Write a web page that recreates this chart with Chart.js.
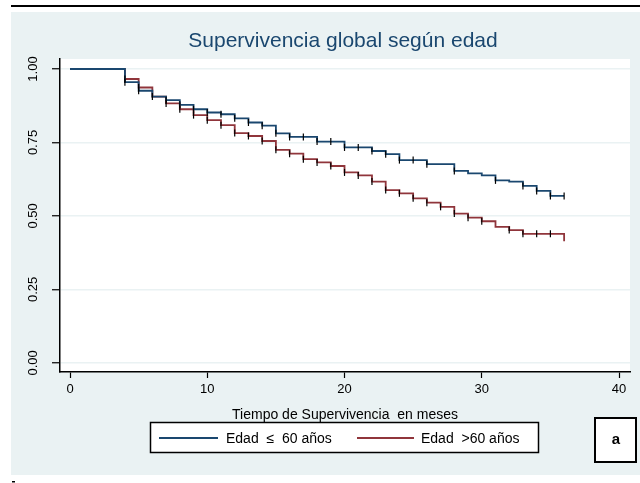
<!DOCTYPE html>
<html lang="es">
<head>
<meta charset="UTF-8">
<title>Supervivencia global según edad</title>
<script src="https://cdn.jsdelivr.net/npm/chart.js"></script>
<style>
  html, body { margin: 0; padding: 0; background: #fff; }
</style>
</head>
<body>
<canvas id="kmChart" width="640" height="483"></canvas>
<script>
// tiempos (meses) y supervivencia
const blueTimes = [0, 4, 5, 6, 7, 8, 9, 10, 11, 12, 13, 14, 15, 16, 18, 20, 22, 23, 24, 26, 28, 29, 30, 31, 32, 33, 34, 35, 36];
const blueSurv  = [1, 0.955, 0.926, 0.906, 0.894, 0.878, 0.863, 0.852, 0.846, 0.832, 0.818, 0.807, 0.781, 0.769, 0.753, 0.733, 0.721, 0.710, 0.690, 0.676, 0.653, 0.645, 0.638, 0.621, 0.617, 0.602, 0.585, 0.568, 0.568];
const redTimes  = [0, 4, 5, 6, 7, 8, 9, 10, 11, 12, 13, 14, 15, 16, 17, 18, 19, 20, 21, 22, 23, 24, 25, 26, 27, 28, 29, 30, 31, 32, 33, 36];
const redSurv   = [1, 0.966, 0.937, 0.906, 0.883, 0.863, 0.843, 0.826, 0.809, 0.782, 0.772, 0.755, 0.725, 0.712, 0.693, 0.682, 0.670, 0.648, 0.638, 0.617, 0.588, 0.577, 0.560, 0.545, 0.531, 0.508, 0.494, 0.482, 0.463, 0.452, 0.439, 0.414];

// marcas de censura
const blueCensor = [4, 5, 7, 8, 9, 10, 11, 12, 13, 14, 15, 16, 17, 18, 19, 20, 21, 22, 23, 24, 25, 26, 28, 31, 33, 34, 35, 36];
const redCensor  = [4, 5, 6, 7, 8, 9, 10, 11, 12, 13, 14, 15, 16, 17, 18, 19, 20, 21, 22, 23, 24, 25, 26, 27, 28, 29, 30, 32, 33, 34, 35];

const xTicks = [0, 10, 20, 30, 40];
const yTicks = [0, 0.25, 0.5, 0.75, 1];
const labels = ['Edad  \u2264  60 años', 'Edad  >60 años'];
const title = 'Supervivencia global según edad';
const xTitle = 'Tiempo de Supervivencia  en meses';

const BLUE = '#1a476f';
const RED = '#90353b';
const BG = '#eaf2f3';
const FONT = '"Liberation Sans", Arial, sans-serif';

function survAt(times, surv, t) {
    let s = surv[0];
    for (let i = 0; i < times.length; i++) {
        if (times[i] <= t) s = surv[i];
    }
    return s;
}

const toXY = (xs, ys) => xs.map((x, i) => ({ x: x, y: ys[i] }));
const censorXY = (cs, times, surv) => cs.map(t => ({ x: t, y: survAt(times, surv, t) }));

const decor = {
    id: 'decor',
    beforeDraw(chart) {
        const ctx = chart.ctx, a = chart.chartArea;
        ctx.save();
        ctx.fillStyle = '#fff';
        ctx.fillRect(0, 0, chart.width, chart.height);
        ctx.fillStyle = '#000';
        ctx.fillRect(11, 5, 629, 2);
        ctx.fillStyle = BG;
        ctx.fillRect(11, 12, 629, 463);
        ctx.fillStyle = '#fff';
        ctx.fillRect(a.left, a.top, a.right - a.left, a.bottom - a.top);
        ctx.fillStyle = '#000';
        ctx.fillRect(12, 481, 3, 1.5);
        ctx.restore();
    },
    afterDraw(chart) {
        const ctx = chart.ctx;
        const y = chart.scales.y;
        ctx.save();

        // titulo
        ctx.fillStyle = BLUE;
        ctx.font = '21px ' + FONT;
        ctx.textAlign = 'center';
        ctx.textBaseline = 'alphabetic';
        ctx.fillText(title, 343, 47);

        // etiquetas eje y, giradas
        ctx.fillStyle = '#000';
        ctx.font = '13px ' + FONT;
        ctx.textBaseline = 'middle';
        y.ticks.forEach(t => {
            ctx.save();
            ctx.translate(33, y.getPixelForValue(t.value));
            ctx.rotate(-Math.PI / 2);
            ctx.fillText(t.value.toFixed(2), 0, 0);
            ctx.restore();
        });

        // leyenda
        ctx.fillStyle = '#fff';
        ctx.fillRect(150, 422, 389, 31);
        ctx.strokeStyle = '#000';
        ctx.lineWidth = 1.5;
        ctx.strokeRect(150.5, 422.5, 388, 30);
        ctx.lineWidth = 2;
        ctx.strokeStyle = BLUE;
        ctx.beginPath(); ctx.moveTo(159, 438); ctx.lineTo(218, 438); ctx.stroke();
        ctx.strokeStyle = RED;
        ctx.beginPath(); ctx.moveTo(357, 438); ctx.lineTo(414, 438); ctx.stroke();
        ctx.fillStyle = '#000';
        ctx.font = '14px ' + FONT;
        ctx.textAlign = 'left';
        ctx.fillText(labels[0], 226, 439);
        ctx.fillText(labels[1], 421, 439);

        // caja "a"
        ctx.fillStyle = '#fff';
        ctx.fillRect(594, 417, 43, 46);
        ctx.lineWidth = 2;
        ctx.strokeStyle = '#000';
        ctx.strokeRect(595, 418, 41, 44);
        ctx.fillStyle = '#000';
        ctx.font = 'bold 15px ' + FONT;
        ctx.textAlign = 'center';
        ctx.fillText('a', 616, 440);
        ctx.restore();
    }
};

new Chart(document.getElementById('kmChart'), {
    type: 'line',
    data: {
        datasets: [
            {
                data: censorXY(blueCensor, blueTimes, blueSurv),
                showLine: false, order: 0,
                pointStyle: 'line', rotation: 90, pointRadius: 3.5,
                pointBorderColor: '#000', pointBorderWidth: 1.2
            },
            {
                data: censorXY(redCensor, redTimes, redSurv),
                showLine: false, order: 0,
                pointStyle: 'line', rotation: 90, pointRadius: 3.5,
                pointBorderColor: '#000', pointBorderWidth: 1.2
            },
            {
                label: labels[0],
                data: toXY(blueTimes, blueSurv),
                stepped: true, order: 1,
                borderColor: BLUE, borderWidth: 1.8,
                pointRadius: 0, fill: false
            },
            {
                label: labels[1],
                data: toXY(redTimes, redSurv),
                stepped: true, order: 2,
                borderColor: RED, borderWidth: 1.8,
                pointRadius: 0, fill: false
            }
        ]
    },
    options: {
        responsive: false,
        animation: false,
        layout: { padding: { top: 59, right: 10, bottom: 0, left: 0 } },
        plugins: {
            legend: { display: false },
            tooltip: { enabled: false },
            title: { display: false }
        },
        scales: {
            x: {
                type: 'linear',
                min: -0.73,
                max: 40.8,
                afterFit(s) { s.height = 111; },
                afterBuildTicks(s) { s.ticks = xTicks.map(v => ({ value: v })); },
                grid: { drawOnChartArea: false, tickLength: 6, tickColor: '#000', tickWidth: 1.2 },
                border: { color: '#000', width: 1.5 },
                ticks: { color: '#000', padding: 4, maxRotation: 0, font: { family: FONT, size: 13 } },
                title: {
                    display: true, text: xTitle, color: '#000',
                    font: { family: FONT, size: 14 },
                    padding: { top: 0, bottom: 59 }
                }
            },
            y: {
                type: 'linear',
                min: -0.031,
                max: 1.034,
                afterFit(s) { s.width = 60; },
                afterBuildTicks(s) { s.ticks = yTicks.map(v => ({ value: v })); },
                grid: { color: BG, lineWidth: 1.5, tickLength: 8, tickColor: '#000', tickWidth: 1.2 },
                border: { color: '#000', width: 1.5 },
                ticks: { display: false }
            }
        }
    },
    plugins: [decor]
});
</script>
</body>
</html>
